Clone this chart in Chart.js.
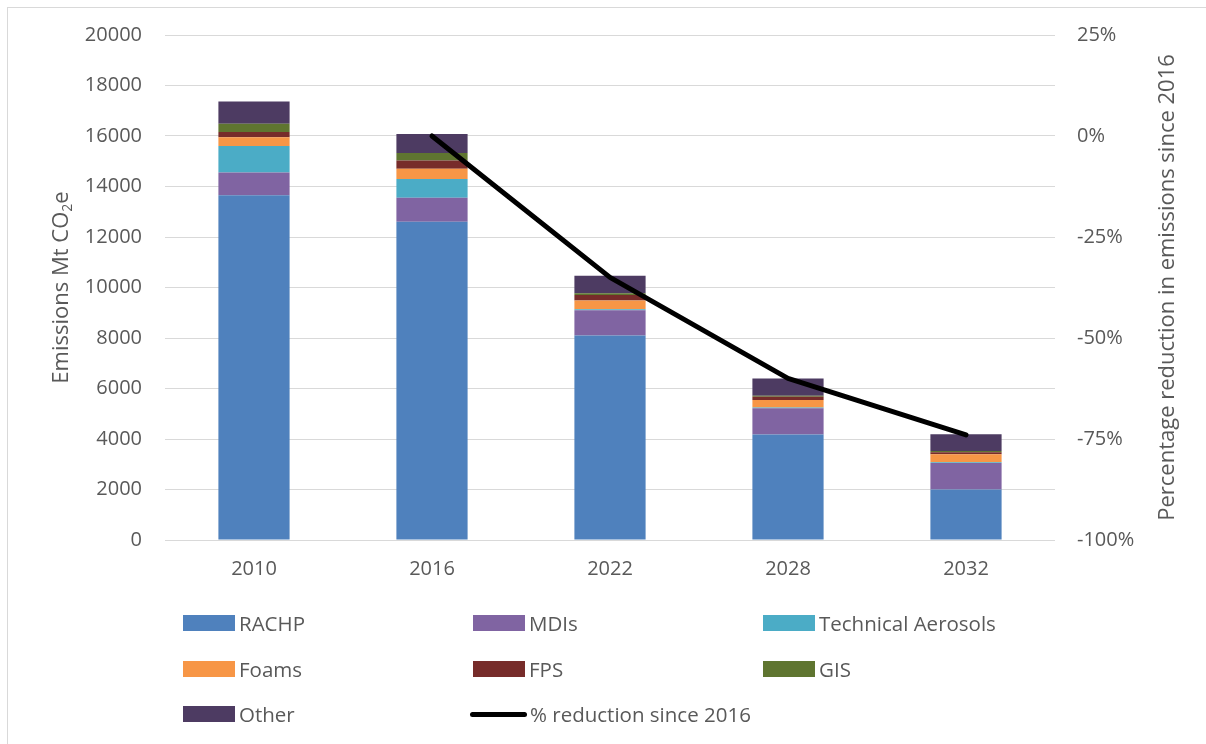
<!DOCTYPE html>
<html>
<head>
<meta charset="utf-8">
<script src="https://cdn.jsdelivr.net/npm/chart.js@4/dist/chart.umd.min.js"></script>
<style>
  html, body { margin: 0; padding: 0; background: #fff; }
  #wrap { position: relative; width: 1206px; height: 744px; overflow: hidden; background: #fff; }
  #frame { position: absolute; left: 7px; top: 7px; width: 1230px; height: 780px; border: 1px solid #D9D9D9; box-sizing: border-box; }
  #chart { position: absolute; left: 0; top: 0; }
  #legend { position: absolute; left: 0; top: 0; width: 1206px; height: 744px; font-family: "Open Sans", Lato, sans-serif; font-size: 20.5px; color: #595959; pointer-events: none; }
  .item { position: absolute; height: 26px; display: flex; align-items: center; white-space: nowrap; }
  .swatch { width: 52px; height: 16px; margin-right: 4px; }
  .lineSwatch { width: 57px; height: 5px; border-radius: 3px; background: #000; margin-right: 3px; }
</style>
</head>
<body>
<div id="wrap">
  <div id="frame"></div>
  <canvas id="chart" width="1206" height="744"></canvas>
  <div id="legend"></div>
</div>
<script>
// Emissions by sector, Mt CO2e
const years = ['2010', '2016', '2022', '2028', '2032'];
const rachp = [13650, 12600, 8100, 4180, 2000];
const mdis = [900, 950, 1000, 1040, 1050];
const technicalAerosols = [1050, 750, 40, 30, 30];
const foams = [350, 400, 350, 290, 320];
const fps = [210, 330, 210, 130, 80];
const gis = [330, 300, 70, 40, 40];
const other = [880, 750, 700, 690, 670];

// Percentage reduction in total emissions relative to 2016
const reductionSince2016 = [null, 0, -35, -60, -74];

// Axis ticks
const emissionTicks = [0, 2000, 4000, 6000, 8000, 10000, 12000, 14000, 16000, 18000, 20000];
const percentTicks = [-100, -75, -50, -25, 0, 25];

const sectorNames = ['RACHP', 'MDIs', 'Technical Aerosols', 'Foams', 'FPS', 'GIS', 'Other'];
const sectorValues = [rachp, mdis, technicalAerosols, foams, fps, gis, other];
const sectorColors = ['#4F81BD', '#8064A2', '#4BACC6', '#F79646', '#772C2A', '#5F7530', '#4D3B62'];
const lineName = '% reduction since 2016';

const FONT = '"Open Sans", Lato, sans-serif';
const FSIZE = 20;
const TITLE_SIZE = 22;
const TEXT = '#595959';
const GRID = '#D9D9D9';

const datasets = sectorNames.map((name, i) => ({
  type: 'bar',
  label: name,
  data: sectorValues[i],
  backgroundColor: sectorColors[i],
  borderWidth: 0,
  yAxisID: 'y',
  stack: 'sectors',
  order: 1,
  categoryPercentage: 1,
  barPercentage: 0.4
}));
datasets.push({
  type: 'line',
  label: lineName,
  data: reductionSince2016,
  yAxisID: 'y2',
  borderColor: '#000',
  borderWidth: 5,
  borderCapStyle: 'round',
  borderJoinStyle: 'round',
  pointRadius: 0,
  tension: 0,
  spanGaps: false,
  order: 0
});

// Rotated axis titles (the left one carries a subscript)
const axisTitles = {
  id: 'axisTitles',
  afterDraw(chart) {
    const ctx = chart.ctx;
    const midY = (chart.chartArea.top + chart.chartArea.bottom) / 2;
    ctx.save();
    ctx.fillStyle = TEXT;
    ctx.textBaseline = 'middle';

    // left title
    const big = TITLE_SIZE + 'px ' + FONT, small = '14px ' + FONT;
    const parts = [['Emissions Mt CO', big, 0], ['2', small, 6], ['e', big, 0]];
    let total = 0;
    parts.forEach(p => { ctx.font = p[1]; total += ctx.measureText(p[0]).width; });
    ctx.translate(62, midY);
    ctx.rotate(-Math.PI / 2);
    let x = -total / 2;
    ctx.textAlign = 'left';
    parts.forEach(p => {
      ctx.font = p[1];
      ctx.fillText(p[0], x, p[2]);
      x += ctx.measureText(p[0]).width;
    });
    ctx.restore();

    // right title
    ctx.save();
    ctx.fillStyle = TEXT;
    ctx.font = TITLE_SIZE + 'px ' + FONT;
    ctx.textAlign = 'center';
    ctx.textBaseline = 'middle';
    ctx.translate(1168, midY);
    ctx.rotate(-Math.PI / 2);
    ctx.fillText('Percentage reduction in emissions since 2016', 0, 0);
    ctx.restore();
  }
};

new Chart(document.getElementById('chart'), {
  data: { labels: years, datasets },
  options: {
    responsive: false,
    animation: false,
    devicePixelRatio: 1,
    layout: { padding: { top: 35, left: 0, right: 0, bottom: 0 } },
    plugins: {
      legend: { display: false },
      tooltip: { enabled: false },
      title: { display: false }
    },
    scales: {
      x: {
        stacked: true,
        grid: { display: false, drawTicks: false },
        border: { display: false },
        ticks: { color: TEXT, font: { family: FONT, size: FSIZE }, padding: 17 },
        afterFit(s) { s.height = 204; }
      },
      y: {
        position: 'left',
        stacked: true,
        min: 0,
        max: 20000,
        afterBuildTicks(s) { s.ticks = emissionTicks.map(v => ({ value: v })); },
        grid: { color: GRID, lineWidth: 1, drawTicks: false },
        border: { display: false },
        ticks: { color: TEXT, font: { family: FONT, size: FSIZE }, padding: 23, callback: v => String(v) },
        afterFit(s) { s.width = 165; }
      },
      y2: {
        position: 'right',
        stacked: false,
        min: -100,
        max: 25,
        afterBuildTicks(s) { s.ticks = percentTicks.map(v => ({ value: v })); },
        grid: { display: false, drawTicks: false },
        border: { display: false },
        ticks: { color: TEXT, font: { family: FONT, size: FSIZE }, padding: 22, callback: v => v + '%' },
        afterFit(s) { s.width = 151; }
      }
    }
  },
  plugins: [axisTitles]
});

// Legend laid out in three columns below the plot
const legend = document.getElementById('legend');
const colX = [183, 473, 763];
const rowY = [623, 669, 714];
const entries = sectorNames.map((n, i) => ({ name: n, color: sectorColors[i], line: false }));
entries.push({ name: lineName, color: '#000', line: true });
entries.forEach((e, i) => {
  const col = i % 3, row = Math.floor(i / 3);
  const item = document.createElement('div');
  item.className = 'item';
  item.style.left = (e.line ? colX[col] - 3 : colX[col]) + 'px';
  item.style.top = (rowY[row] - 13) + 'px';
  const sw = document.createElement('div');
  sw.className = e.line ? 'lineSwatch' : 'swatch';
  if (!e.line) sw.style.background = e.color;
  const label = document.createElement('span');
  label.textContent = e.name;
  item.appendChild(sw);
  item.appendChild(label);
  legend.appendChild(item);
});
</script>
</body>
</html>
